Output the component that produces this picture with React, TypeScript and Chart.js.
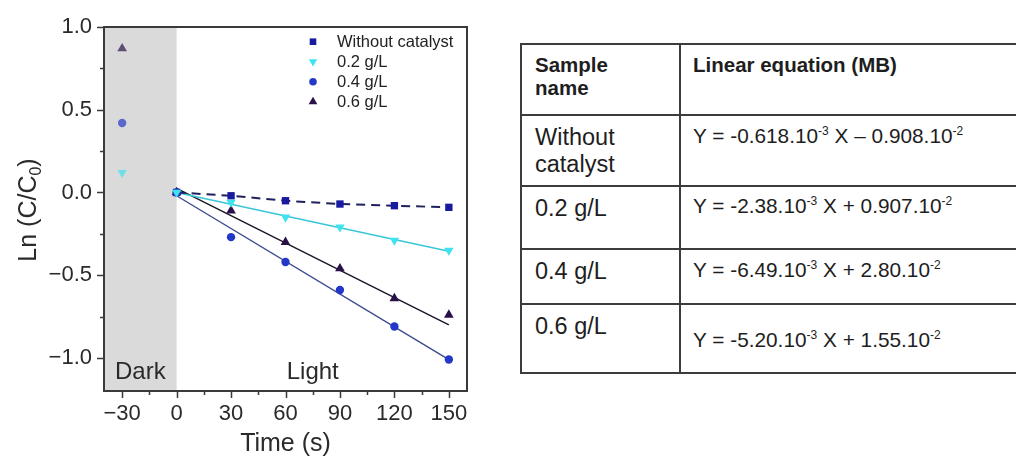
import React, { useEffect, useRef } from 'react';
import { Chart, registerables } from 'chart.js';

Chart.register(...registerables);

// ---------------- data ----------------
const timeS = [-30, 0, 30, 60, 90, 120, 150];
const withoutCatalyst = [null, 0, -0.02, -0.05, -0.07, -0.08, -0.09];
const conc02 = [0.12, 0, -0.06, -0.15, -0.21, -0.29, -0.35];
const conc04 = [0.42, 0, -0.27, -0.42, -0.59, -0.81, -1.01];
const conc06 = [0.87, 0, -0.11, -0.30, -0.46, -0.64, -0.74];

const fitTimes = [0, 150];
const fit02 = [0.0, -0.355];
const fit04 = [-0.02, -1.01];
const fit06 = [0.025, -0.8];

const seriesLabels = ['Without catalyst', '0.2 g/L', '0.4 g/L', '0.6 g/L'];

const xTicks = [-30, 0, 30, 60, 90, 120, 150];
const xMinorTicks = [-15, 15, 45, 75, 105, 135];
const yTicks = [-1.0, -0.5, 0.0, 0.5, 1.0];
const yMinorTicks = [-0.75, -0.25, 0.25, 0.75];
const xRange = [-40, 160];
const yRange = [-1.2, 1.0];
const lightOnTime = 0;
const lightOffTime = 150;
const regionLabels = ['Dark', 'Light'];

const xTitle = 'Time (s)';
const yTitleMain = 'Ln (C/C';
const yTitleSub = '0';
const yTitleEnd = ')';

const tableHeaders = ['Sample\nname', 'Linear equation (MB)'];
const tableSamples = ['Without\ncatalyst', '0.2 g/L', '0.4 g/L', '0.6 g/L'];
const eqSlopes = ['-0.618', '-2.38', '-6.49', '-5.20'];
const eqSlopeExp = ['-3', '-3', '-3', '-3'];
const eqSigns = ['–', '+', '+', '+'];
const eqIntercepts = ['0.908', '0.907', '2.80', '1.55'];
const eqInterceptExp = ['-2', '-2', '-2', '-2'];

// ---------------- styles ----------------
const FONT = "'Liberation Sans', Arial, sans-serif";
const GRAY = [218, 218, 218];

function hexToRgb(h: string) {
  const n = parseInt(h.slice(1), 16);
  return [(n >> 16) & 255, (n >> 8) & 255, n & 255];
}
function fade(h: string, a: number) {
  const c = hexToRgb(h);
  const m = c.map((v, i) => Math.round(v * (1 - a) + GRAY[i] * a));
  return `rgb(${m[0]},${m[1]},${m[2]})`;
}
const fmtMinus = (s: string) => s.replace('-', '\u2212');

function pts(ys: (number | null)[], xs: number[] = timeS) {
  return xs.map((x, i) => ({ x, y: ys[i] })).filter((p) => p.y !== null);
}

function drawMarker(ctx: CanvasRenderingContext2D, style: string, rot: number, r: number, x: number, y: number, color: string) {
  ctx.save();
  ctx.fillStyle = color;
  ctx.translate(x, y);
  ctx.rotate((rot * Math.PI) / 180);
  ctx.beginPath();
  if (style === 'rect') {
    const s = r * Math.SQRT1_2;
    ctx.rect(-s, -s, 2 * s, 2 * s);
  } else if (style === 'triangle') {
    ctx.moveTo(0, -r);
    ctx.lineTo(r * Math.cos(Math.PI / 6), r * 0.5);
    ctx.lineTo(-r * Math.cos(Math.PI / 6), r * 0.5);
    ctx.closePath();
  } else {
    ctx.arc(0, 0, r, 0, Math.PI * 2);
  }
  ctx.fill();
  ctx.restore();
}

const decorPlugin = {
  id: 'decor',
  beforeDatasetsDraw(chart: any) {
    const { ctx, chartArea: a, scales } = chart;
    const x0 = scales.x.getPixelForValue(lightOnTime);
    ctx.save();
    ctx.fillStyle = `rgb(${GRAY.join(',')})`;
    ctx.fillRect(a.left, a.top, x0 - a.left, a.bottom - a.top);
    ctx.restore();
  },
  afterDraw(chart: any) {
    const { ctx, chartArea: a, scales } = chart;
    const xs = scales.x;
    const ys = scales.y;
    ctx.save();
    // region labels
    ctx.fillStyle = '#2a2a2a';
    ctx.font = `24px ${FONT}`;
    ctx.textAlign = 'center';
    ctx.textBaseline = 'alphabetic';
    const darkC = (a.left + xs.getPixelForValue(lightOnTime)) / 2;
    const lightC = (xs.getPixelForValue(lightOnTime) + xs.getPixelForValue(lightOffTime)) / 2;
    ctx.fillText(regionLabels[0], darkC, a.bottom - 12);
    ctx.fillText(regionLabels[1], lightC, a.bottom - 12);

    // frame
    ctx.strokeStyle = '#3a3a3a';
    ctx.lineWidth = 2;
    ctx.strokeRect(a.left, a.top, a.right - a.left, a.bottom - a.top);

    // ticks
    ctx.lineWidth = 1.5;
    ctx.beginPath();
    xTicks.forEach((v) => {
      const p = Math.round(xs.getPixelForValue(v)) + 0.5;
      ctx.moveTo(p, a.bottom);
      ctx.lineTo(p, a.bottom + 7);
    });
    xMinorTicks.forEach((v) => {
      const p = Math.round(xs.getPixelForValue(v)) + 0.5;
      ctx.moveTo(p, a.bottom);
      ctx.lineTo(p, a.bottom + 4);
    });
    yTicks.forEach((v) => {
      const p = Math.round(ys.getPixelForValue(v)) + 0.5;
      ctx.moveTo(a.left, p);
      ctx.lineTo(a.left - 7, p);
    });
    yMinorTicks.forEach((v) => {
      const p = Math.round(ys.getPixelForValue(v)) + 0.5;
      ctx.moveTo(a.left, p);
      ctx.lineTo(a.left - 4, p);
    });
    ctx.stroke();

    // axis titles
    ctx.fillStyle = '#2a2a2a';
    ctx.font = `25px ${FONT}`;
    ctx.textAlign = 'center';
    ctx.fillText(xTitle, (a.left + a.right) / 2, 451);

    ctx.save();
    ctx.translate(36, 210);
    ctx.rotate(-Math.PI / 2);
    ctx.textAlign = 'left';
    ctx.font = `25px ${FONT}`;
    const w1 = ctx.measureText(yTitleMain).width;
    const w3 = ctx.measureText(yTitleEnd).width;
    ctx.font = `16px ${FONT}`;
    const w2 = ctx.measureText(yTitleSub).width;
    const total = w1 + w2 + w3;
    let cx = -total / 2;
    ctx.font = `25px ${FONT}`;
    ctx.fillText(yTitleMain, cx, 0);
    cx += w1;
    ctx.font = `16px ${FONT}`;
    ctx.fillText(yTitleSub, cx, 5);
    cx += w2;
    ctx.font = `25px ${FONT}`;
    ctx.fillText(yTitleEnd, cx, 0);
    ctx.restore();

    // legend
    ctx.font = `16.5px ${FONT}`;
    ctx.textAlign = 'left';
    ctx.textBaseline = 'middle';
    seriesLabels.forEach((lab, i) => {
      const ds = chart.data.datasets.find((d: any) => d.label === lab && !d.isFit);
      const y = 41.7 + i * 20;
      drawMarker(ctx, ds.pointStyle, ds.pointRotation || 0, ds.legendRadius, 313, y, ds.baseColor);
      ctx.fillStyle = '#222';
      ctx.fillText(lab, 337, y + 1);
    });
    ctx.restore();
  },
};

function ChartPanel() {
  const ref = useRef<HTMLCanvasElement | null>(null);
  useEffect(() => {
    if (!ref.current) return;
    const mk = (label: string, ys: (number | null)[], color: string, style: string, r: number, rot = 0, extra: any = {}) => ({
      label,
      data: pts(ys),
      baseColor: color,
      pointStyle: style,
      pointRotation: rot,
      pointRadius: r,
      legendRadius: r * 0.9,
      pointBorderWidth: 0,
      pointBackgroundColor: (c: any) => (c.raw && c.raw.x < lightOnTime ? fade(color, 0.3) : color),
      pointBorderColor: (c: any) => (c.raw && c.raw.x < lightOnTime ? fade(color, 0.3) : color),
      showLine: false,
      ...extra,
    });
    const fit = (label: string, ys: number[], color: string) => ({
      label,
      isFit: true,
      data: pts(ys, fitTimes),
      showLine: true,
      borderColor: color,
      borderWidth: 1.4,
      pointRadius: 0,
    });
    const chart = new Chart(ref.current, {
      type: 'scatter',
      data: {
        datasets: [
          mk(seriesLabels[1], conc02, '#3de3ee', 'triangle', 5.4, 180),
          mk(seriesLabels[2], conc04, '#2438c8', 'circle', 4.2),
          mk(seriesLabels[3], conc06, '#2a1048', 'triangle', 5.6),
          mk(seriesLabels[0], withoutCatalyst, '#1a1aa0', 'rect', 5.2, 0, {
            showLine: true,
            borderColor: '#20205e',
            borderWidth: 2,
            borderDash: [9, 6],
          }),
          fit(seriesLabels[1], fit02, '#38c6d8'),
          fit(seriesLabels[2], fit04, '#3c4a8e'),
          fit(seriesLabels[3], fit06, '#1a1626'),
        ] as any,
      },
      options: {
        animation: false,
        responsive: false,
        maintainAspectRatio: false,
        layout: { padding: { top: 27, right: 33, left: 0, bottom: 0 } },
        plugins: { legend: { display: false }, tooltip: { enabled: false } },
        scales: {
          x: {
            type: 'linear',
            min: xRange[0],
            max: xRange[1],
            afterFit: (s: any) => {
              s.height = 69;
            },
            afterBuildTicks: (s: any) => {
              s.ticks = xTicks.map((v) => ({ value: v }));
            },
            grid: { display: false, drawTicks: false },
            border: { display: false },
            ticks: {
              padding: 10,
              color: '#2a2a2a',
              font: { family: FONT, size: 22 },
              maxRotation: 0,
              callback: (v: any) => fmtMinus(String(v)),
            },
          },
          y: {
            type: 'linear',
            min: yRange[0],
            max: yRange[1],
            afterFit: (s: any) => {
              s.width = 104;
            },
            afterBuildTicks: (s: any) => {
              s.ticks = yTicks.map((v) => ({ value: v }));
            },
            grid: { display: false, drawTicks: false },
            border: { display: false },
            ticks: {
              padding: 12,
              color: '#2a2a2a',
              font: { family: FONT, size: 22 },
              callback: (v: any) => fmtMinus(Number(v).toFixed(1)),
            },
          },
        },
      },
      plugins: [decorPlugin],
    });
    return () => chart.destroy();
  }, []);
  return <canvas ref={ref} width={500} height={460} style={{ position: 'absolute', left: 0, top: 0, width: 500, height: 460 }} />;
}

function baseTop(baseline: number, f: number, lh: number) {
  return baseline - ((lh - 1.117 * f) / 2 + 0.905 * f);
}

function Sup({ t }: { t: string }) {
  return <span style={{ fontSize: 12, position: 'relative', top: -8 }}>{t}</span>;
}

function Table() {
  const left = 521;
  const colX = 680;
  const right = 1030;
  const rowLines = [44, 115, 186, 249, 304, 373];
  const nameOffset = 31;
  const eqOffsets = [28, 27, 28, 43];
  const lineColor = '#3c3c3c';
  const els: any[] = [];
  rowLines.forEach((y, i) => {
    els.push(<div key={'h' + i} style={{ position: 'absolute', left, top: y - 1, width: right - left, height: 2, background: lineColor }} />);
  });
  [left, colX].forEach((x, i) => {
    els.push(<div key={'v' + i} style={{ position: 'absolute', left: x - 1, top: rowLines[0] - 1, width: 2, height: rowLines[rowLines.length - 1] - rowLines[0] + 2, background: lineColor }} />);
  });
  const hdStyle: any = { position: 'absolute', top: baseTop(rowLines[0] + 28, 20.5, 23), fontSize: 20.5, lineHeight: '23px', fontWeight: 'bold', whiteSpace: 'pre' };
  els.push(<div key="hd0" style={{ ...hdStyle, left: 535 }}>{tableHeaders[0]}</div>);
  els.push(<div key="hd1" style={{ ...hdStyle, left: 693 }}>{tableHeaders[1]}</div>);
  tableSamples.forEach((s, i) => {
    const rt = rowLines[i + 1];
    els.push(
      <div key={'n' + i} style={{ position: 'absolute', left: 535, top: baseTop(rt + nameOffset, 23.5, 27), fontSize: 23.5, lineHeight: '27px', whiteSpace: 'pre' }}>
        {s}
      </div>,
    );
    els.push(
      <div key={'e' + i} style={{ position: 'absolute', left: 693, top: baseTop(rt + eqOffsets[i], 20.8, 23), fontSize: 20.8, lineHeight: '23px', whiteSpace: 'pre' }}>
        Y = {eqSlopes[i]}.10<Sup t={eqSlopeExp[i]} /> X {eqSigns[i]} {eqIntercepts[i]}.10<Sup t={eqInterceptExp[i]} />
      </div>,
    );
  });
  return <>{els}</>;
}

export default function App() {
  return (
    <div
      style={{
        position: 'absolute',
        left: 0,
        top: 0,
        width: 1016,
        height: 460,
        overflow: 'hidden',
        background: '#fff',
        fontFamily: FONT,
        color: '#1e1e1e',
      }}
    >
      <ChartPanel />
      <Table />
    </div>
  );
}
